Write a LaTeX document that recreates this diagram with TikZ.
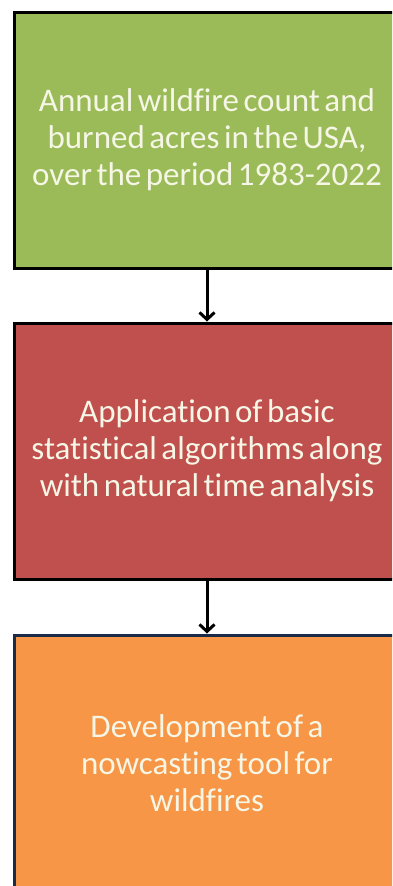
\documentclass[tikz,border=0pt]{standalone}
\usepackage{fontspec}
\setmainfont[Ligatures=NoCommon]{Carlito}
\usetikzlibrary{arrows.meta}
\definecolor{boxgreen}{HTML}{9BBB59}
\definecolor{boxred}{HTML}{C0504D}
\definecolor{boxorange}{HTML}{F79646}
\definecolor{boxnavy}{HTML}{1B2A47}
\definecolor{txtwhite}{HTML}{F6F6E6}
\newcommand{\tightsp}{\spaceskip=4.5pt\relax}
\tikzset{
  stagebox/.style={draw=black, line width=3pt, minimum width=386pt, minimum height=256pt,
    text width=380pt, align=center, inner sep=0pt, text=txtwhite,
    font=\fontsize{33}{37}\selectfont},
  flowarrow/.style={line width=3pt, -{Straight Barb[length=7pt,width=15pt,line width=3pt]}}
}
\begin{document}
\begin{tikzpicture}[x=1pt,y=-1pt]
\useasboundingbox (0,0) rectangle (392,886);
\clip (0,0) rectangle (392,886);
\fill[white] (0,0) rectangle (392,886);
\node[stagebox, fill=boxgreen] (b1) at (207,140) {\tightsp Annual wildfire count and\\burned acres in the USA,\\over the period 1983-2022};
\node[stagebox, fill=boxred] (b2) at (207,451) {\tightsp Application of basic\\statistical algorithms along\\with natural time analysis};
\node[stagebox, fill=boxorange, draw=boxnavy] (b3) at (207,763) {\tightsp Development of a\\nowcasting tool for\\wildfires};
\draw[flowarrow] (b1.south) -- (b2.north);
\draw[flowarrow] (b2.south) -- (b3.north);
\end{tikzpicture}
\end{document}
